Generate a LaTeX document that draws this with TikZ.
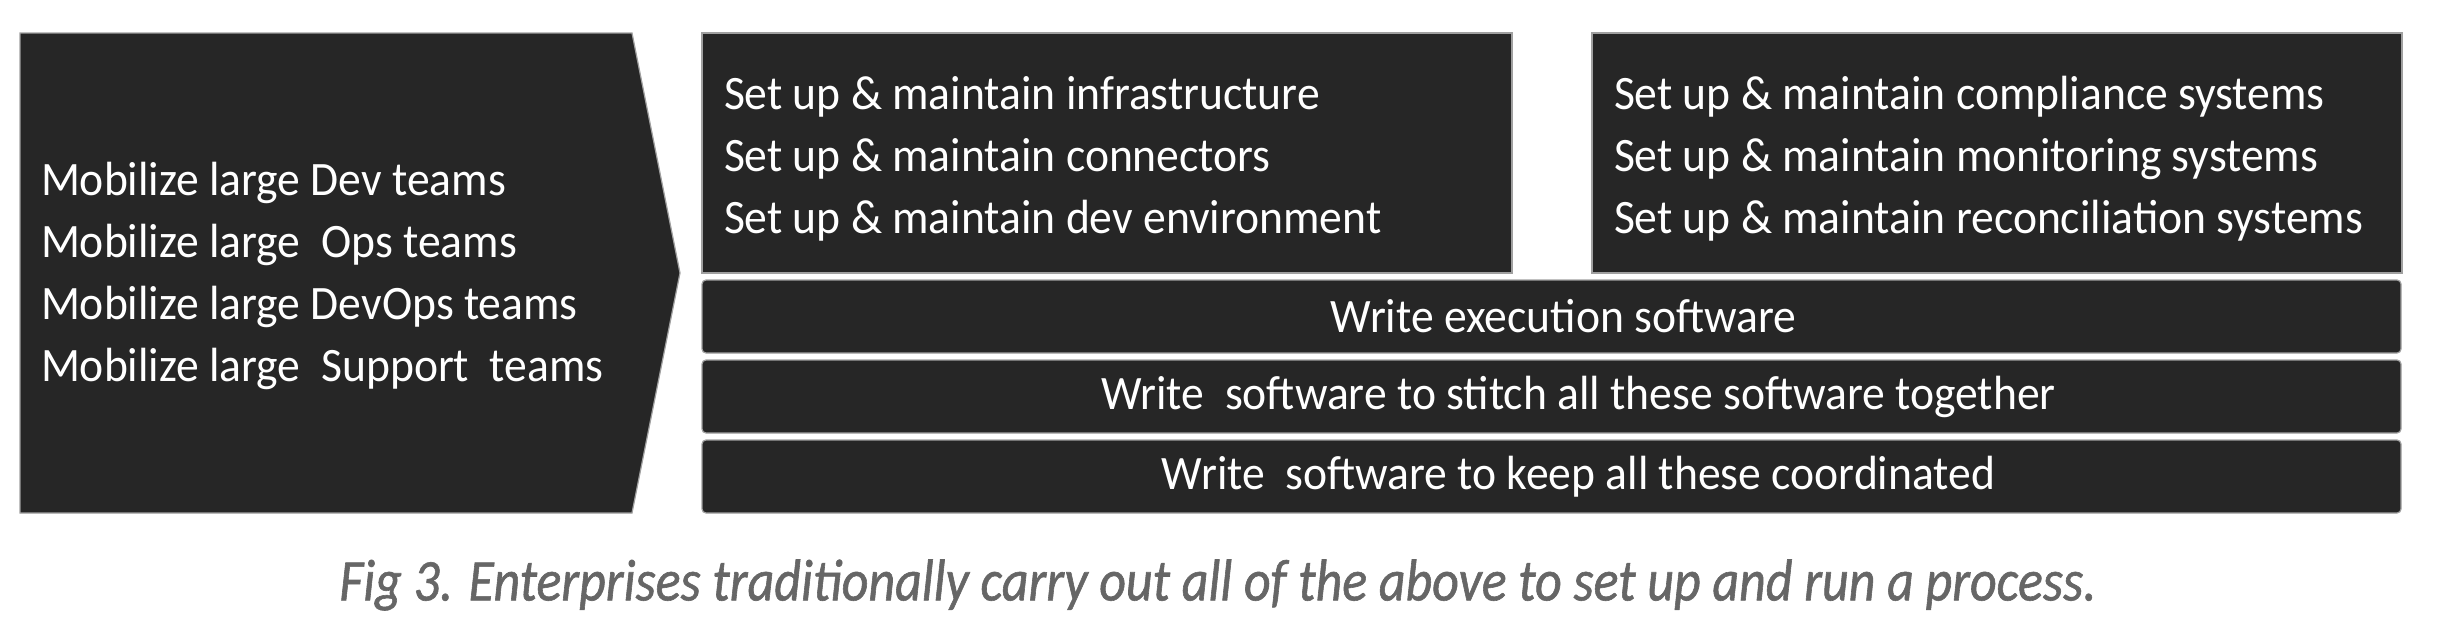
\documentclass[tikz,border=0pt]{standalone}
\usepackage{fontspec}
\setmainfont[FakeStretch=0.95]{Carlito}
\newfontfamily\captionfont[FakeStretch=0.88,FakeBold=1]{Carlito}
\usetikzlibrary{positioning}
\definecolor{boxfill}{HTML}{262626}
\definecolor{boxedge}{HTML}{A0A0A0}
\definecolor{capgray}{HTML}{666666}

\begin{document}
\begin{tikzpicture}[x=0.25pt,y=-0.25pt,outer sep=0pt,
		box/.style={fill=boxfill,draw=boxedge,line width=0.3pt},
		white text/.style={text=white,font=\fontsize{12}{15.5}\selectfont},
		setup node/.style={box,white text,anchor=north west,minimum height=60pt,
			text width=191.5pt,inner xsep=5.5pt,align=flush left,
			execute at begin node={\rule{0pt}{11pt}}},
		row node/.style={box,white text,rounded corners=1pt,minimum width=424.75pt,
			minimum height=18.25pt,execute at begin node={\hspace*{#1}}},
		row node/.default=0pt]
	
	\useasboundingbox (0,0) rectangle (2442,632);
	
	% chevron with the teams
	\path[box] (20,33) -- (632,33) -- (680,273) -- (632,513) -- (20,513) -- cycle;
	\node[white text,align=left,anchor=west,inner sep=0pt] (teams) at (41,276)
		{Mobilize large Dev teams\\Mobilize large \ Ops teams\\Mobilize large DevOps teams\\Mobilize large \ Support \ teams};
	
	% the two set up boxes
	\node[setup node] (infra) at (702,33)
		{Set up \& maintain infrastructure\\Set up \& maintain connectors\\Set up \& maintain dev environment};
	\node[setup node] (systems) at (1592,33)
		{Set up \& maintain compliance systems\\Set up \& maintain monitoring systems\\Set up \& maintain reconciliation systems};
	
	% the software rows
	\node[row node=6pt] (exec) [below right=1.75pt and 0pt of infra.south west] {Write execution software};
	\node[row node=13.5pt] (stitch) [below right=1.75pt and 0pt of exec.south west] {Write \ software to stitch all these software together};
	\node[row node=13.5pt] (coord) [below right=1.75pt and 0pt of stitch.south west] {Write \ software to keep all these coordinated};
	
	\node[text=capgray,font=\captionfont\fontsize{14.75}{18}\selectfont\itshape] (caption) at (1218,585)
		{Fig 3. Enterprises traditionally carry out all of the above to set up and run a process.};
\end{tikzpicture}
\end{document}
